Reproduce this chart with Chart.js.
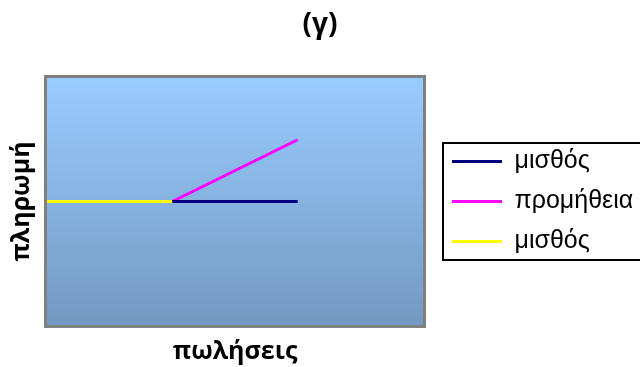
<!DOCTYPE html>
<html>
<head>
<meta charset="utf-8">
<script src="https://cdn.jsdelivr.net/npm/chart.js@4/dist/chart.umd.min.js"></script>
<style>
  html, body { margin: 0; padding: 0; background: #fff; }
  #wrap { width: 640px; height: 367px; }
</style>
</head>
<body>
<div id="wrap"><canvas id="payChart" width="640" height="367"></canvas></div>
<script>
// series names and points (sales on x, pay on y)
const seriesNames = ['μισθός', 'προμήθεια', 'μισθός'];
const seriesColors = ['#000080', '#ff00ff', '#ffff00'];
const salaryX = [1, 2];
const salaryY = [2, 2];
const commissionX = [1, 2];
const commissionY = [2, 3];
const baseX = [0, 1];
const baseY = [2, 2];
const salesRange = [0, 3];
const payRange = [0, 4];

const toPoints = (xs, ys) => xs.map((x, i) => ({ x: x, y: ys[i] }));

// gradient plot background with grey frame
const plotBackground = {
    id: 'plotBackground',
    beforeDatasetsDraw(chart) {
        const { ctx, chartArea: a } = chart;
        ctx.save();
        const g = ctx.createLinearGradient(0, a.top, 0, a.bottom);
        g.addColorStop(0, '#99ccff');
        g.addColorStop(1, '#7399c2');
        ctx.fillStyle = g;
        ctx.fillRect(a.left, a.top, a.right - a.left, a.bottom - a.top);
        ctx.strokeStyle = '#808080';
        ctx.lineWidth = 3;
        ctx.strokeRect(a.left - 1.5, a.top - 1.5, a.right - a.left + 3, a.bottom - a.top + 3);
        ctx.restore();
    }
};

// black frame around the legend, drawn behind its items
const legendFrame = {
    id: 'legendFrame',
    beforeDraw(chart) {
        const lg = chart.legend;
        if (!lg || !lg.legendHitBoxes || !lg.legendHitBoxes.length) return;
        const boxes = lg.legendHitBoxes;
        const first = boxes[0];
        const last = boxes[boxes.length - 1];
        const x = first.left - 9;
        const top = first.top - 6;
        const bottom = last.top + last.height + 6;
        const { ctx } = chart;
        ctx.save();
        ctx.fillStyle = '#ffffff';
        ctx.fillRect(x, top, chart.width + 10 - x, bottom - top);
        ctx.strokeStyle = '#000000';
        ctx.lineWidth = 2;
        ctx.strokeRect(x, top, chart.width + 10 - x, bottom - top);
        ctx.restore();
    }
};

new Chart(document.getElementById('payChart'), {
    type: 'line',
    data: {
        datasets: [
            { label: seriesNames[0], data: toPoints(salaryX, salaryY), borderColor: seriesColors[0], backgroundColor: seriesColors[0] },
            { label: seriesNames[1], data: toPoints(commissionX, commissionY), borderColor: seriesColors[1], backgroundColor: seriesColors[1] },
            { label: seriesNames[2], data: toPoints(baseX, baseY), borderColor: seriesColors[2], backgroundColor: seriesColors[2] }
        ]
    },
    options: {
        responsive: false,
        animation: false,
        events: [],
        elements: {
            line: { borderWidth: 3, tension: 0 },
            // legend lines take their width from the point style
            point: { radius: 0, borderWidth: 3 }
        },
        layout: { padding: 0 },
        scales: {
            x: {
                type: 'linear',
                min: salesRange[0],
                max: salesRange[1],
                ticks: { display: false },
                grid: { display: false, drawTicks: false },
                border: { display: false },
                title: {
                    display: true,
                    text: 'πωλήσεις',
                    color: '#000',
                    font: { family: '"Open Sans", sans-serif', size: 25, weight: 'bold' },
                    padding: { top: 12, bottom: 0 }
                }
            },
            y: {
                min: payRange[0],
                max: payRange[1],
                ticks: { display: false },
                grid: { display: false, drawTicks: false },
                border: { display: false },
                title: {
                    display: true,
                    text: 'πληρωμή',
                    color: '#000',
                    font: { family: '"Open Sans", sans-serif', size: 25, weight: 'bold' },
                    padding: { top: 6.6, bottom: 10.4 }
                }
            },
            // empty right-hand axis, just a gap between plot and legend
            gap: {
                position: 'right',
                display: true,
                ticks: { display: false },
                grid: { display: false, drawTicks: false },
                border: { display: false },
                afterFit(scale) { scale.width = 14; }
            }
        },
        plugins: {
            title: {
                display: true,
                text: '(γ)',
                color: '#000',
                font: { family: '"Open Sans", sans-serif', size: 28, weight: 'bold' },
                padding: { top: 8, bottom: 36.4 }
            },
            legend: {
                position: 'right',
                fullSize: false,
                maxWidth: 203,
                labels: {
                    usePointStyle: true,
                    pointStyle: 'line',
                    pointStyleWidth: 50,
                    padding: 15,
                    color: '#000',
                    font: { family: '"Liberation Sans", Arial, sans-serif', size: 25 }
                }
            },
            tooltip: { enabled: false }
        }
    },
    plugins: [plotBackground, legendFrame]
});
</script>
</body>
</html>
